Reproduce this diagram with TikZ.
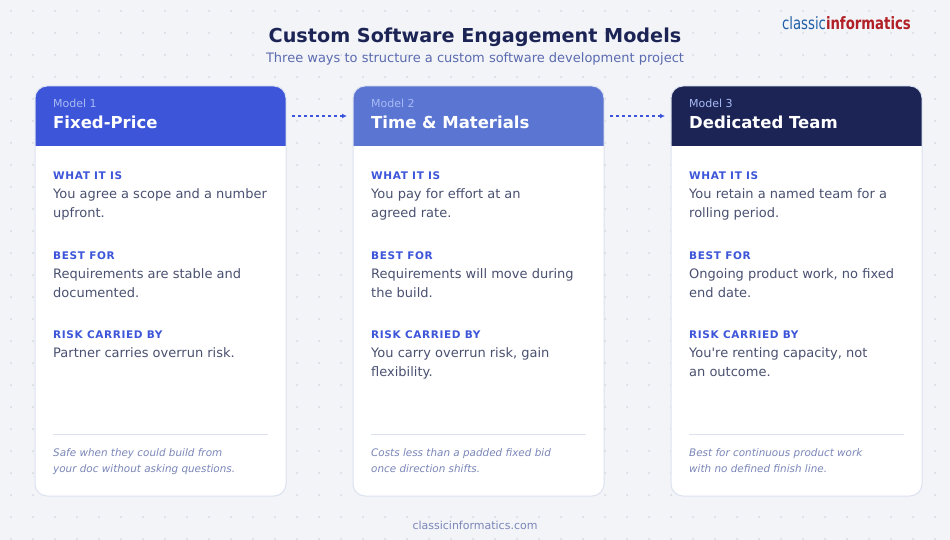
\documentclass[tikz,border=0pt]{standalone}
\usepackage{fontspec}
\setmainfont{DejaVu Sans}
\usetikzlibrary{arrows.meta}
\definecolor{bg}{HTML}{F3F4F8}
\definecolor{dotc}{HTML}{D3D7E3}
\definecolor{navy}{HTML}{1B2455}
\definecolor{blueA}{HTML}{3D55D9}
\definecolor{blueB}{HTML}{5B75D3}
\definecolor{sub}{HTML}{5B6BB0}
\definecolor{bodyc}{HTML}{4A5170}
\definecolor{foot}{HTML}{7A86B8}
\definecolor{brd}{HTML}{DCE2F0}
\definecolor{modc}{HTML}{A8BAF5}
\definecolor{logoblue}{HTML}{1F5FA8}
\definecolor{logored}{HTML}{B02026}
\tikzset{
 lbl/.style={anchor=base west,inner sep=0,text=blueA,font=\fontsize{10.5}{12}\selectfont\bfseries\addfontfeature{LetterSpace=6}},
 bod/.style={anchor=base west,inner sep=0,text=bodyc,font=\fontsize{13}{19}\selectfont},
 ftn/.style={anchor=base west,inner sep=0,text=foot,font=\fontsize{10.4}{16}\selectfont\itshape},
 modl/.style={anchor=base west,inner sep=0,text=modc,font=\fontsize{11}{12}\selectfont},
 ttl/.style={anchor=base west,inner sep=0,text=white,font=\fontsize{16.5}{18}\selectfont\bfseries},
 conn/.style={blueA,line width=1.4pt,dash pattern=on 3pt off 3pt,-{Latex[length=5pt,width=5pt]}}
}
\begin{document}
\begin{tikzpicture}[x=1pt,y=-1pt]
\fill[bg] (0,0) rectangle (950,540);
\useasboundingbox (0,0) rectangle (950,540);
\foreach \i in {0,...,43} \foreach \j in {0,...,24}
  \fill[dotc] (11+22*\i,11+22*\j) circle (1);
\node[anchor=base,text=navy,font=\fontsize{19.2}{21}\selectfont\bfseries] (title) at (475,43) {Custom Software Engagement Models};
\node[anchor=base,text=sub,font=\fontsize{13}{15}\selectfont] (subt) at (475,63) {Three ways to structure a custom software development project};
\node[anchor=base east,inner sep=0,font=\fontsize{17}{18}\selectfont] (logo) at (911,30) {\scalebox{0.78}[1]{\textcolor{logoblue}{classic}\textcolor{logored}{\bfseries informatics}}};
\node[anchor=base,text=foot,font=\fontsize{11}{12}\selectfont] (url) at (475,529) {classicinformatics.com};
\foreach \x/\c/\n/\t/\la/\lb/\lc/\ld/\le/\lf/\fa/\fb [count=\k] in {
 35/blueA/1/Fixed-Price/{You agree a scope and a number}/{upfront.}/{Requirements are stable and}/{documented.}/{Partner carries overrun risk.}/{}/{Safe when they could build from}/{your doc without asking questions.},
 353/blueB/2/{Time \& Materials}/{You pay for effort at an}/{agreed rate.}/{Requirements will move during}/{the build.}/{You carry overrun risk, gain}/{flexibility.}/{Costs less than a padded fixed bid}/{once direction shifts.},
 671/navy/3/Dedicated Team/{You retain a named team for a}/{rolling period.}/{Ongoing product work, no fixed}/{end date.}/{You\textquotesingle re renting capacity, not}/{an outcome.}/{Best for continuous product work}/{with no defined finish line.}}{
 \begin{scope}
  \clip[rounded corners=12] (\x,86) rectangle ++(251,410);
  \fill[white] (\x,86) rectangle ++(251,410);
  \fill[\c] (\x,86) rectangle ++(251,60);
 \end{scope}
 \draw[brd,line width=1pt,rounded corners=12] (\x,86) rectangle ++(251,410);
 \node[modl] at (\x+18,108) {Model \n};
 \node[ttl] at (\x+18,129) {\t};
 \node[lbl] at (\x+18,180) {WHAT IT IS};
 \node[bod] at (\x+18,199) {\la};
 \node[bod] at (\x+18,218) {\lb};
 \node[lbl] at (\x+18,259) {BEST FOR};
 \node[bod] at (\x+18,278) {\lc};
 \node[bod] at (\x+18,297) {\ld};
 \node[lbl] at (\x+18,338) {RISK CARRIED BY};
 \node[bod] at (\x+18,357) {\le};
 \node[bod] at (\x+18,376) {\lf};
 \draw[brd,line width=1pt] (\x+18,434) -- (\x+233,434);
 \node[ftn] at (\x+18,456) {\fa};
 \node[ftn] at (\x+18,472) {\fb};
}
\coordinate (a1s) at (292,116); \coordinate (a1e) at (347,116);
\coordinate (a2s) at (610,116); \coordinate (a2e) at (665,116);
\draw[conn] (a1s) -- (a1e);
\draw[conn] (a2s) -- (a2e);
\end{tikzpicture}
\end{document}
